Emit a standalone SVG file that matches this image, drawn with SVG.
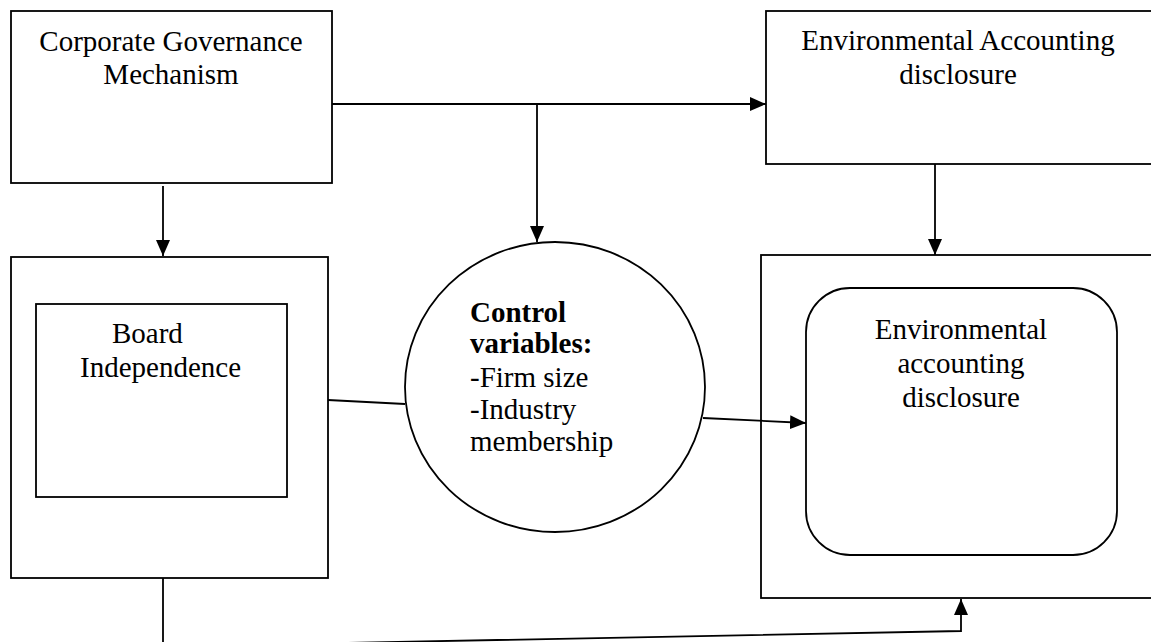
<svg xmlns="http://www.w3.org/2000/svg" width="1151" height="642" viewBox="0 0 1151 642">
<style>
.box{fill:#fff;stroke:#000;stroke-width:1.8}
.ln{fill:none;stroke:#000;stroke-width:1.8}
.t{font-family:"Liberation Serif","Times New Roman",serif;font-size:29px;fill:#000}
.b{font-weight:bold}
</style>
<defs>
<marker id="ah" markerUnits="userSpaceOnUse" markerWidth="16" markerHeight="14" refX="16" refY="7" orient="auto">
<path d="M0,0 L16,7 L0,14 Z" fill="#000"/>
</marker>
</defs>
<rect width="1151" height="642" fill="#fff"/>
<g id="cgm">
<rect class="box" x="11" y="11" width="321" height="172"/>
<text class="t" x="171" y="51" text-anchor="middle">Corporate Governance</text>
<text class="t" x="171" y="84" text-anchor="middle">Mechanism</text>
</g>
<g id="ead">
<rect class="box" x="766" y="11" width="400" height="153"/>
<text class="t" x="958" y="50" text-anchor="middle">Environmental Accounting</text>
<text class="t" x="958" y="84" text-anchor="middle">disclosure</text>
</g>
<g id="board">
<rect class="box" x="11" y="257" width="317" height="321"/>
<rect class="box" x="36" y="304" width="251" height="193"/>
<text class="t" x="112" y="343">Board</text>
<text class="t" x="80" y="377">Independence</text>
</g>
<g id="control">
<ellipse class="box" cx="555" cy="387" rx="150" ry="145"/>
<text class="t b" x="470" y="322">Control</text>
<text class="t b" x="470" y="353">variables:</text>
<text class="t" x="470" y="387">-Firm size</text>
<text class="t" x="470" y="419">-Industry</text>
<text class="t" x="470" y="451">membership</text>
</g>
<g id="outcome">
<rect class="box" x="761" y="255" width="405" height="343"/>
<rect class="box" x="806" y="288" width="311" height="267" rx="44" ry="44"/>
<text class="t" x="961" y="339" text-anchor="middle">Environmental</text>
<text class="t" x="961" y="373" text-anchor="middle">accounting</text>
<text class="t" x="961" y="407" text-anchor="middle">disclosure</text>
</g>
<g id="connectors">
<line class="ln" x1="163" y1="186" x2="163" y2="256" marker-end="url(#ah)"/>
<line class="ln" x1="332" y1="104" x2="766" y2="104" marker-end="url(#ah)"/>
<line class="ln" x1="537" y1="104" x2="537" y2="242" marker-end="url(#ah)"/>
<line class="ln" x1="935" y1="164" x2="935" y2="255" marker-end="url(#ah)"/>
<line class="ln" x1="328" y1="400" x2="405" y2="404"/>
<line class="ln" x1="703" y1="418" x2="806" y2="423" marker-end="url(#ah)"/>
<polyline class="ln" points="163,578 163,646.5 961,631 961,599" marker-end="url(#ah)"/>
</g>
</svg>
